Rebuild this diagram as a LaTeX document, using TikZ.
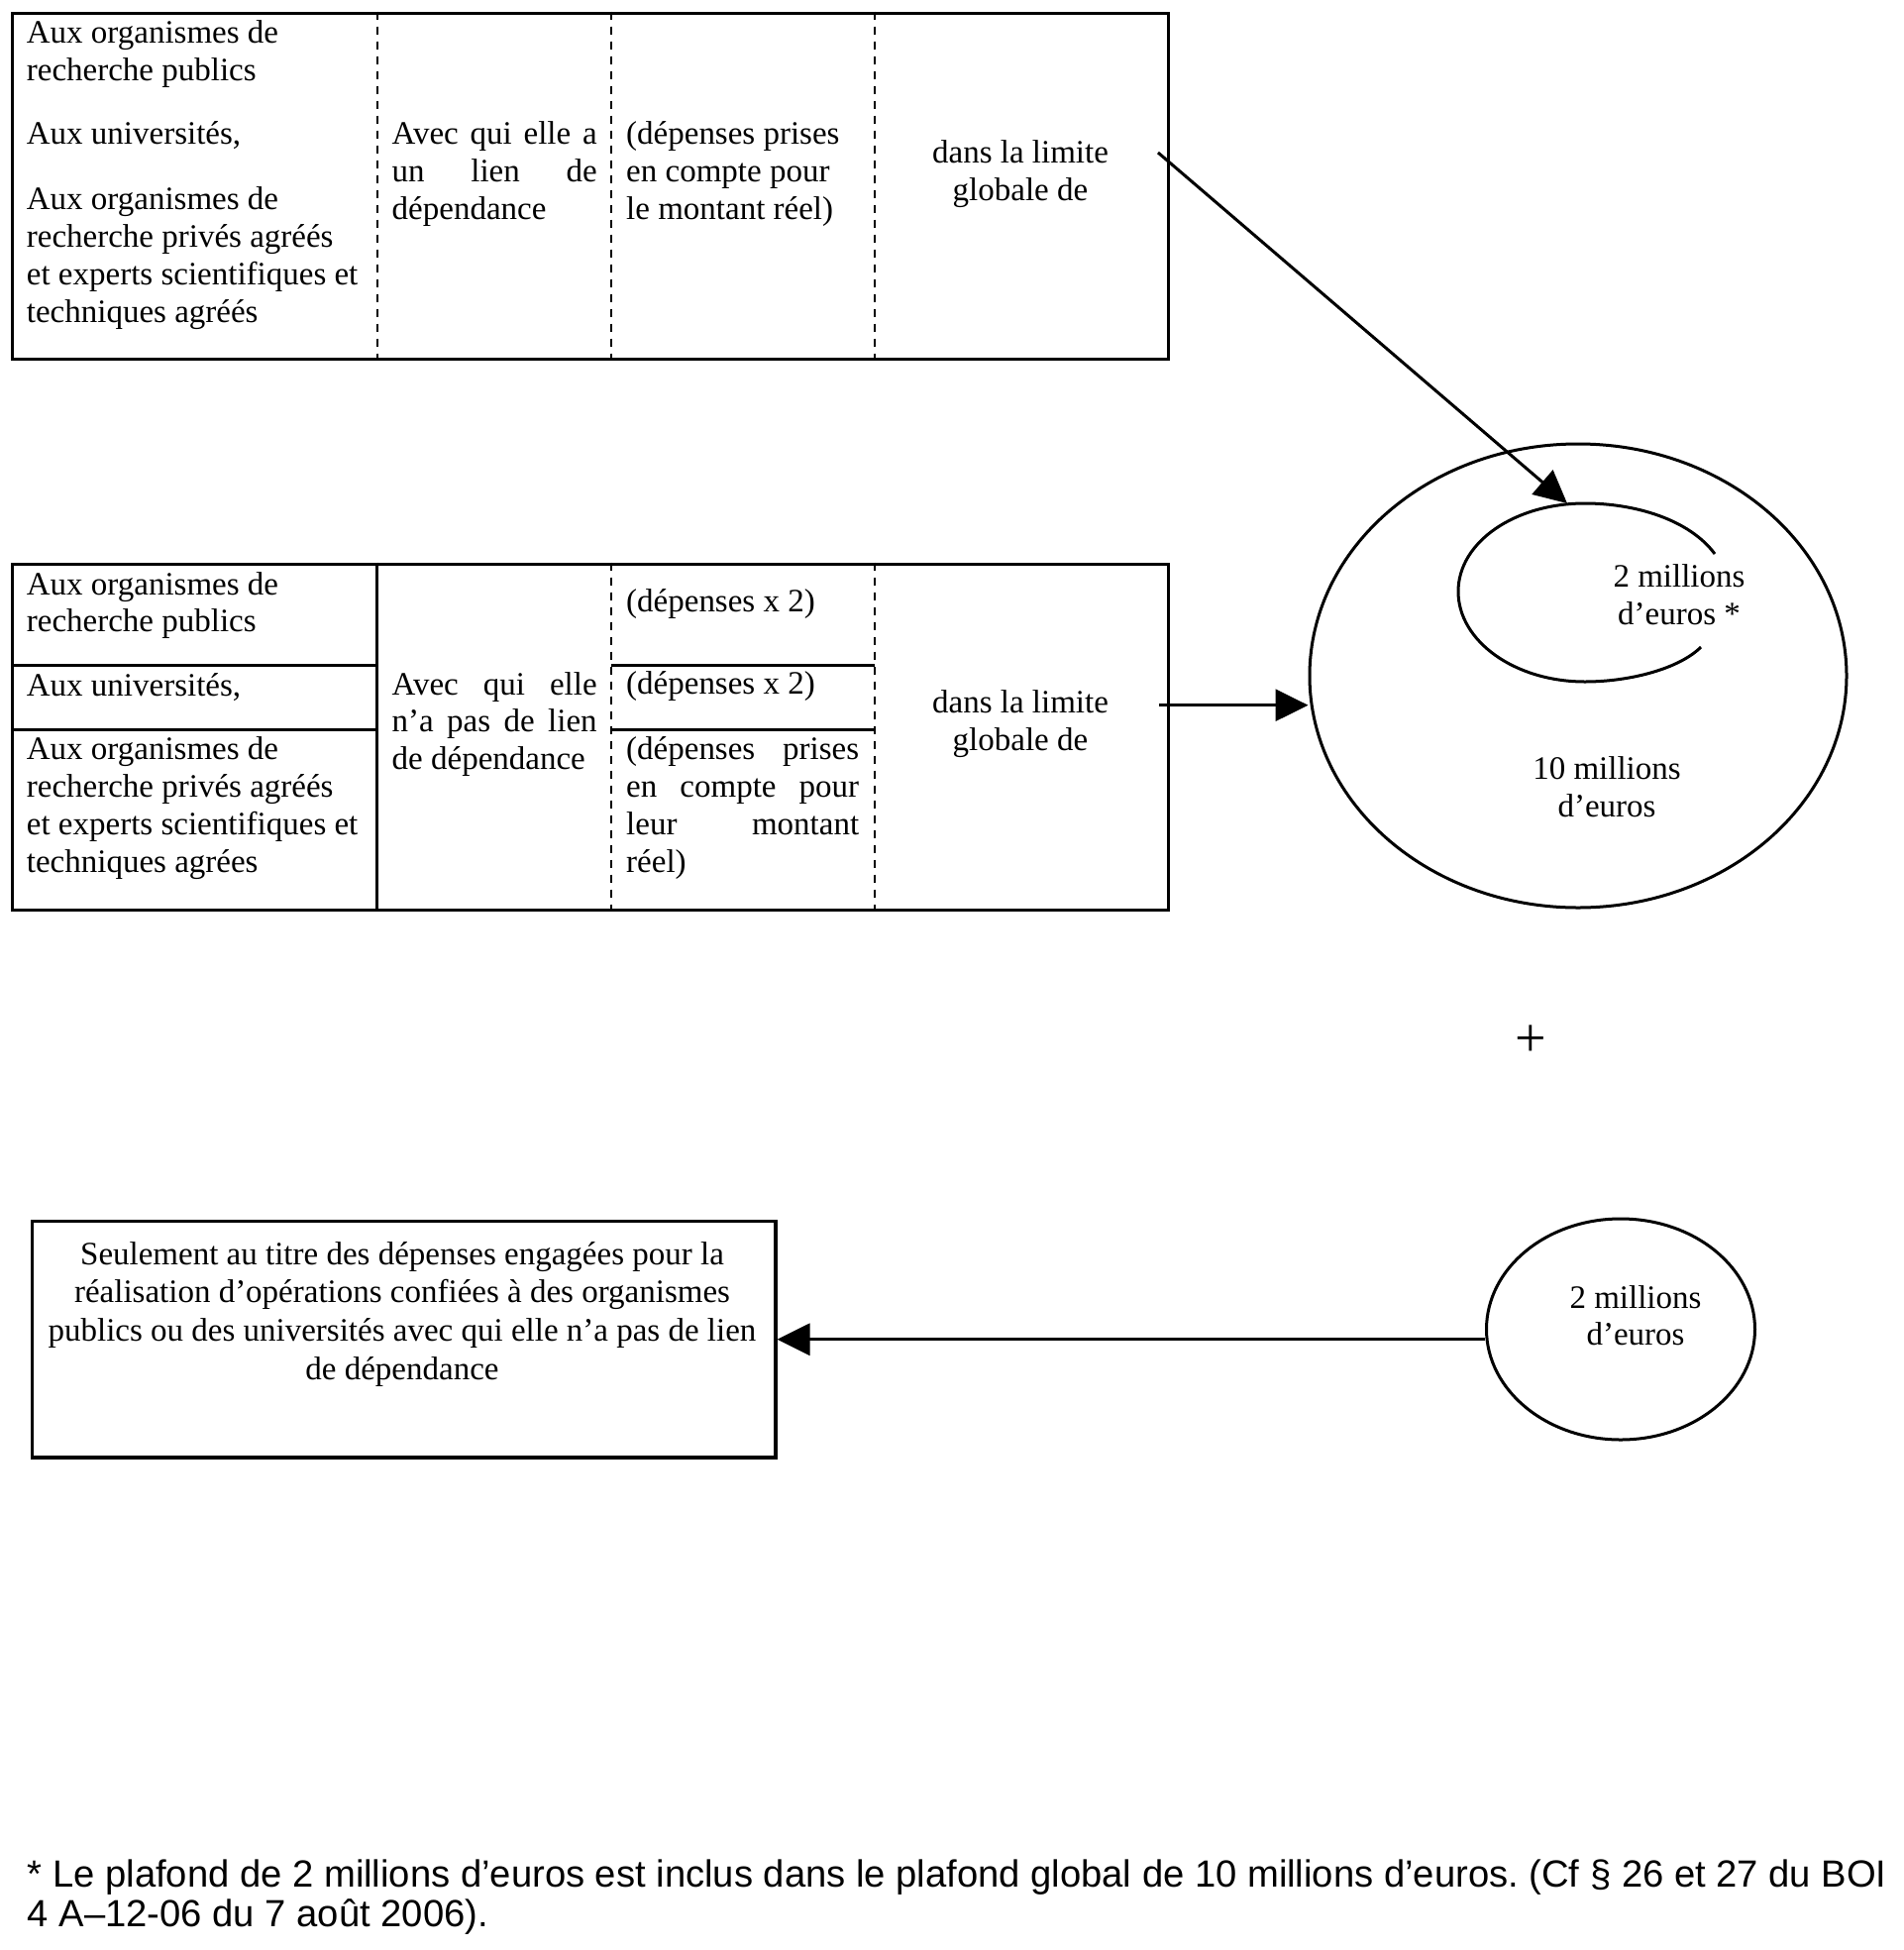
\documentclass[tikz,border=0pt]{standalone}
\usepackage{fontspec}
\setmainfont{Liberation Serif}
\newfontfamily\footfont{Liberation Sans}
\usetikzlibrary{arrows.meta,shapes.geometric}
\newcommand\tnrsize{\fontsize{33}{37.9}\selectfont}
\newcommand\jline[2]{\makebox[#1][s]{#2}}
\frenchspacing
\begin{document}
\begin{tikzpicture}[x=1pt,y=-1pt,
  boxline/.style={line width=3pt},
  dashline/.style={line width=2pt, dash pattern=on 8pt off 7pt},
  arr/.style={line width=3pt, -{Triangle[length=33pt,width=32pt]}},
  frame/.style={draw, boxline, rectangle, inner sep=0pt, anchor=north west},
  txt/.style={inner sep=0pt, anchor=base west, font=\tnrsize},
  ctxt/.style={inner sep=0pt, anchor=base, font=\tnrsize},
  oval/.style={draw, boxline, ellipse, inner sep=0pt},
]
\useasboundingbox (0,0) rectangle (1922,1968);

% ---------- top table ----------
\node[frame, minimum width=1167.3pt, minimum height=349.3pt] (topbox) at (11,11.7) {};
\draw[dashline] (380.7,11.7) -- (380.7,361);
\draw[dashline] (617,11.7) -- (617,361);
\draw[dashline] (882.5,11.7) -- (882.5,361);

\node[txt] (t1a) at (26.7,43.3) {\parbox[t]{400pt}{\raggedright Aux organismes de\\recherche publics}};
\node[txt] (t1b) at (26.7,145.7) {\parbox[t]{400pt}{\raggedright Aux universités,}};
\node[txt] (t1c) at (26.7,211.7) {\parbox[t]{400pt}{\raggedright Aux organismes de\\recherche privés agréés\\et experts scientifiques et\\techniques agréés}};
\node[txt] (t2) at (395.5,145.7) {\parbox[t]{207pt}{\jline{207pt}{Avec qui elle a}\\\jline{207pt}{un lien de}\\dépendance}};
\node[txt] (t3) at (632,145.7) {\parbox[t]{300pt}{\raggedright (dépenses prises\\en compte pour\\le montant réel)}};
\node[ctxt] (t4) at (1030,164.7) {\parbox[t]{280pt}{\centering dans la limite\\globale de}};

% ---------- middle table ----------
\node[frame, minimum width=1167.3pt, minimum height=349.8pt] (midbox) at (11,567.5) {};
\draw[boxline] (380.5,567.5) -- (380.5,917.3);
\draw[dashline] (617,567.5) -- (617,917.3);
\draw[dashline] (882.5,567.5) -- (882.5,917.3);
\draw[boxline] (11,671) -- (380.5,671);
\draw[boxline] (11,736) -- (380.5,736);
\draw[boxline] (617,671) -- (882.5,671);
\draw[boxline] (617,736) -- (882.5,736);

\node[txt] (m1a) at (26.7,600) {\parbox[t]{400pt}{\raggedright Aux organismes de\\recherche publics}};
\node[txt] (m1b) at (26.7,702.7) {\parbox[t]{400pt}{\raggedright Aux universités,}};
\node[txt] (m1c) at (26.7,766.7) {\parbox[t]{400pt}{\raggedright Aux organismes de\\recherche privés agréés\\et experts scientifiques et\\techniques agrées}};
\node[txt] (m2) at (395.5,701) {\parbox[t]{207pt}{\jline{207pt}{Avec qui elle}\\\jline{207pt}{n’a pas de lien}\\de dépendance}};
\node[txt] (m3a) at (632,617.3) {\parbox[t]{300pt}{\raggedright (dépenses x 2)}};
\node[txt] (m3b) at (632,700.7) {\parbox[t]{300pt}{\raggedright (dépenses x 2)}};
\node[txt] (m3c) at (632,766.7) {\parbox[t]{235pt}{\jline{235pt}{(dépenses prises}\\\jline{235pt}{en compte pour}\\\jline{235pt}{leur montant}\\réel)}};
\node[ctxt] (m4) at (1030,719.5) {\parbox[t]{280pt}{\centering dans la limite\\globale de}};

% ---------- ellipses ----------
\node[oval, minimum width=542pt, minimum height=468pt] (big) at (1593,682) {};
\draw[boxline] (1731,559) .. controls (1705,524) and (1650,508) .. (1600,508)
  .. controls (1529,508) and (1472,547) .. (1472,597)
  .. controls (1472,647) and (1529,688) .. (1600,688)
  .. controls (1645,688) and (1695,675) .. (1717,653);
\coordinate (itop) at (1582,508);
\node[ctxt] (e1) at (1695,592.3) {\parbox[t]{250pt}{\centering 2 millions\\d’euros *}};
\node[ctxt] (e2) at (1622,786.7) {\parbox[t]{250pt}{\centering 10 millions\\d’euros}};

\coordinate (tstart) at (1169,154);
\coordinate (mstart) at (1170,711.7);
\draw[arr] (tstart) -- (itop);
\draw[arr] (mstart) -- (mstart -| big.west);

\node[inner sep=0pt, font=\fontsize{56}{60}\selectfont] (plus) at (1545,1051) {+};

% ---------- bottom ----------
\node[frame, minimum width=750.3pt, minimum height=238.6pt, line width=3.5pt] (botbox) at (30.7,1230.7) {};
\node[ctxt] (b1) at (406,1276) {\parbox[t]{760pt}{\centering\baselineskip=38.8pt Seulement au titre des dépenses engagées pour la\\réalisation d’opérations confiées à des organismes\\publics ou des universités avec qui elle n’a pas de lien\\de dépendance}};
\node[oval, minimum width=271pt, minimum height=223pt] (small) at (1636,1341.5) {};
\node[ctxt] (e3) at (1651,1320) {\parbox[t]{250pt}{\centering 2 millions\\d’euros}};
\draw[arr] (botbox.east -| small.west) -- (botbox.east);

% ---------- footnote ----------
\node[inner sep=0pt, anchor=base west, font=\footfont\fontsize{38.2}{40}\selectfont] (fn) at (27.6,1904)
  {\parbox[t]{1950pt}{\raggedright * Le plafond de 2 millions d’euros est inclus dans le plafond global de 10 millions d’euros. (Cf § 26 et 27 du BOI\\4 A–12-06 du 7 août 2006).}};
\end{tikzpicture}
\end{document}
